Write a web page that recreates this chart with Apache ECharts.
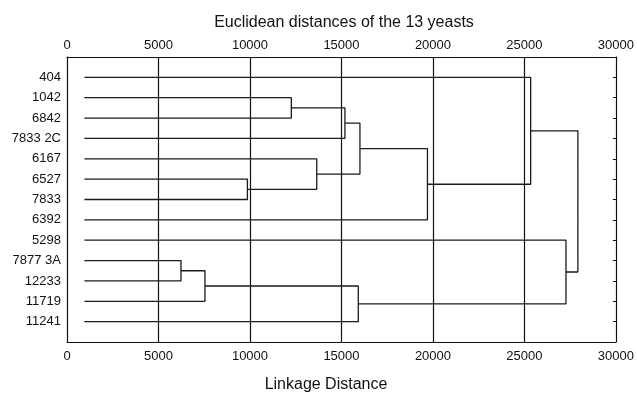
<!DOCTYPE html>
<html>
<head>
<meta charset="utf-8">
<script src="https://cdn.jsdelivr.net/npm/echarts@6/dist/echarts.min.js"></script>
<style>
  html, body { margin: 0; padding: 0; background: #fff; }
  #main { width: 637px; height: 394px; }
</style>
</head>
<body>
<div id="main"></div>
<script>
// leaves, top to bottom
var leaves = ['404', '1042', '6842', '7833 2C', '6167', '6527', '7833', '6392',
              '5298', '7877 3A', '12233', '11719', '11241'];
// where the leaf lines start on the distance axis
var leafStart = 950;
// merges: [childA, childB, linkage distance]; new node ids continue after the leaves
var merges = [
    [1, 2, 12260],
    [13, 3, 15190],
    [5, 6, 9860],
    [4, 15, 13650],
    [14, 16, 16010],
    [17, 7, 19700],
    [0, 18, 25340],
    [9, 10, 6230],
    [20, 11, 7540],
    [21, 12, 15920],
    [8, 22, 27270],
    [19, 23, 27920]
];

// build dendrogram segments
var nodeY = [], nodeH = [];
leaves.forEach(function (n, i) { nodeY.push(i); nodeH.push(leafStart); });
var segs = [];
merges.forEach(function (m) {
    var a = m[0], b = m[1], h = m[2];
    segs.push([nodeH[a], nodeY[a]], [h, nodeY[a]], [h, nodeY[b]], [nodeH[b], nodeY[b]], null);
    nodeY.push((nodeY[a] + nodeY[b]) / 2);
    nodeH.push(h);
});
var linkData = segs.map(function (p) { return p ? p : [null, null]; });

var chart = echarts.init(document.getElementById('main'));
var font = 'Liberation Sans, Arial, sans-serif';
function xLabel(margin) {
    return {
        color: '#111', fontSize: 13, fontFamily: font, margin: margin,
        formatter: function (v) { return String(v); }
    };
}
var xAxisBase = {
    type: 'value',
    min: 0,
    max: 30000,
    interval: 5000,
    axisLine: { show: true, onZero: false, lineStyle: { color: '#111', width: 1 } },
    axisTick: { show: false },
    splitLine: { show: false }
};
var option = {
    backgroundColor: '#fff',
    animation: false,
    title: [{
        text: 'Euclidean distances of the 13 yeasts',
        left: 339,
        top: 10,
        textAlign: 'center',
        textStyle: { color: '#111', fontSize: 16, fontWeight: 'normal', fontFamily: font }
    }, {
        text: 'Linkage Distance',
        left: 321,
        top: 372,
        textAlign: 'center',
        textStyle: { color: '#111', fontSize: 16, fontWeight: 'normal', fontFamily: font }
    }],
    grid: { left: 67, right: 20, top: 57, bottom: 52, containLabel: false },
    xAxis: [
        Object.assign({}, xAxisBase, {
            position: 'bottom',
            axisLabel: xLabel(8),
            splitLine: { show: true, lineStyle: { color: '#111', width: 1.2 } }
        }),
        Object.assign({}, xAxisBase, { position: 'top', axisLabel: xLabel(5) })
    ],
    yAxis: [{
        type: 'value',
        min: -1,
        max: 13,
        interval: 1,
        inverse: true,
        position: 'left',
        axisLine: { show: true, onZero: false, lineStyle: { color: '#111', width: 1 } },
        axisTick: { show: false },
        splitLine: { show: false },
        axisLabel: {
            color: '#111', fontSize: 13, fontFamily: font, margin: 6,
            formatter: function (v) { return leaves[v] || ''; }
        }
    }, {
        type: 'value',
        min: -1,
        max: 13,
        interval: 1,
        inverse: true,
        position: 'right',
        axisLine: { show: true, onZero: false, lineStyle: { color: '#111', width: 1 } },
        axisTick: { show: true, inside: true, length: 3, lineStyle: { color: '#111' } },
        splitLine: { show: false },
        axisLabel: { show: false }
    }],
    series: [{
        type: 'line',
        data: linkData,
        showSymbol: false,
        connectNulls: false,
        lineStyle: { color: '#1a1a1a', width: 1.3 },
        z: 3
    }]
};
chart.setOption(option);
</script>
</body>
</html>
